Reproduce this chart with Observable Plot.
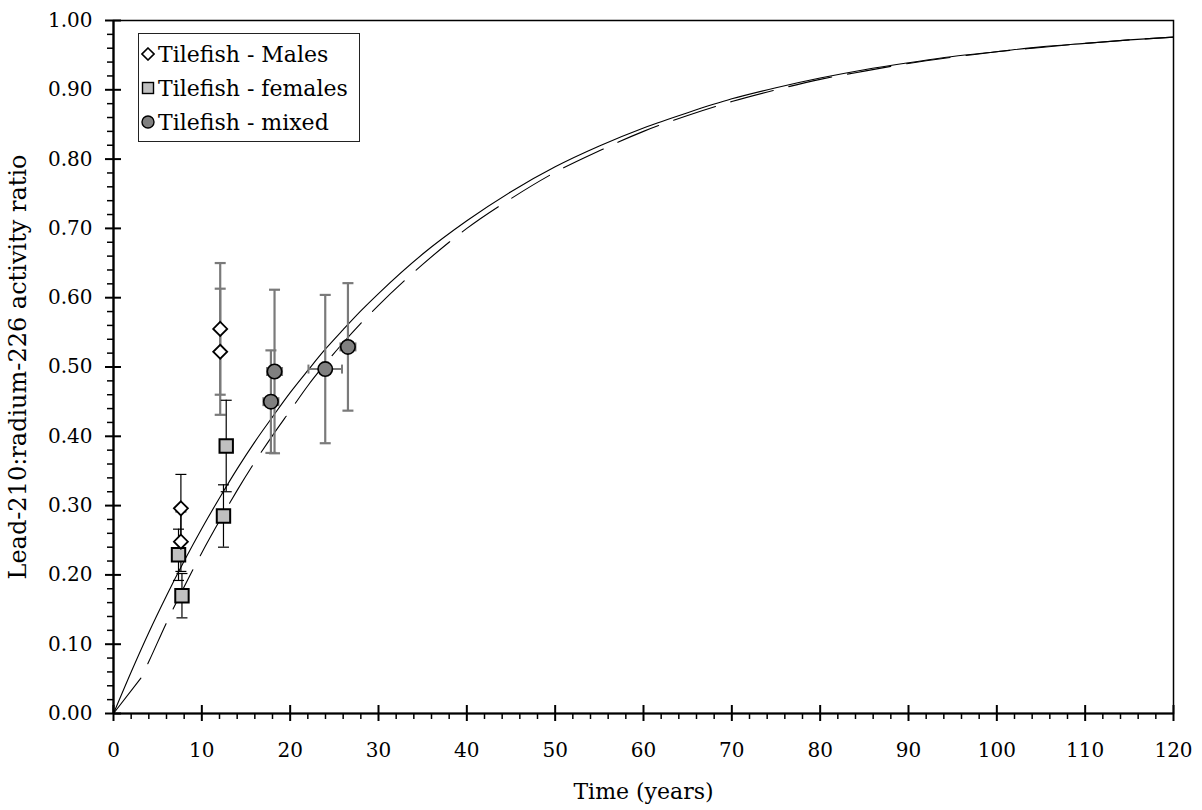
<!DOCTYPE html>
<html><head><meta charset="utf-8">
<script src="https://cdn.jsdelivr.net/npm/d3@7"></script>
<script src="https://cdn.jsdelivr.net/npm/@observablehq/plot@0.6"></script>
<style>
body{margin:0;background:#fff;}
#wrap{position:relative;width:1202px;height:810px;font-family:"DejaVu Serif",serif;}
#legend{position:absolute;left:138px;top:33px;width:222px;height:109px;border:1px solid #222;background:#fff;box-sizing:border-box;padding-top:3px;font-size:22px;color:#000;}
#legend .row{display:flex;align-items:center;height:34px;padding-left:2px;}
#legend svg{margin-right:3px;}
</style></head>
<body><div id="wrap"></div>
<script>
// Theoretical ingrowth curves
const curveTime   = [0,2,4,6,8,10,12,14,16,18,20,22,24,26,28,30,35,40,45,50,55,60,65,70,75,80,85,90,95,100,105,110,115,120];
const solidRatio  = [0,0.060,0.117,0.170,0.220,0.267,0.311,0.353,0.392,0.428,0.463,0.495,0.526,0.554,0.581,0.606,0.663,0.711,0.753,0.789,0.819,0.845,0.867,0.887,0.903,0.917,0.929,0.939,0.948,0.955,0.962,0.967,0.972,0.976];
// dashed curve: a straight first piece, then the curve
const dashedStartTime  = [0,3.1];
const dashedStartRatio = [0,0.051];
const dashedTime  = [3.1,4,6,8,10,12,14,16,18,20,22,24,26,28,30,35,40,45,50,55,60,65,70,75,80,85,90,95,100,105,110,115,120];
const dashedRatio = [0.051,0.075,0.131,0.183,0.232,0.278,0.322,0.363,0.401,0.437,0.473,0.505,0.535,0.563,0.589,0.648,0.700,0.743,0.781,0.812,0.840,0.863,0.883,0.900,0.915,0.927,0.938,0.947,0.955,0.961,0.967,0.972,0.976];

// Tilefish samples
const maleTime   = [7.63,7.63,12.08,12.08];
const maleRatio  = [0.296,0.248,0.555,0.522];
const maleErr    = [0.049,0.043,0.095,0.091];
const femaleTime = [7.36,7.75,12.45,12.76];
const femaleRatio= [0.229,0.170,0.285,0.386];
const femaleErr  = [0.037,0.032,0.045,0.066];
const mixedTime  = [17.82,18.23,23.97,26.54];
const mixedRatio = [0.450,0.4935,0.497,0.529];
const mixedErr   = [0.074,0.118,0.107,0.092];
const mixedTimeErr = [0.85,0.85,1.9,0.85];

// Axes
const xMajor = [0,10,20,30,40,50,60,70,80,90,100,110,120];
const xLabels = ["0","10","20","30","40","50","60","70","80","90","100","110","120"];
const xMinor = d3.range(0,121,2).filter(v => v % 10 !== 0);
const yMajor = [0,0.1,0.2,0.3,0.4,0.5,0.6,0.7,0.8,0.9,1.0];
const yLabels = ["0.00","0.10","0.20","0.30","0.40","0.50","0.60","0.70","0.80","0.90","1.00"];
const yMinor = d3.range(0,51).map(i => i/50).filter((v,i) => i % 5 !== 0);
const xTitle = "Time (years)";
const yTitle = "Lead-210:radium-226 activity ratio";
const seriesNames = ["Tilefish - Males","Tilefish - females","Tilefish - mixed"];

const idx = a => a.map((_, i) => i);
const hCap = {draw(ctx, size){const r = Math.sqrt(size/Math.PI); ctx.moveTo(-r,0); ctx.lineTo(r,0);}};
const vCap = {draw(ctx, size){const r = Math.sqrt(size/Math.PI); ctx.moveTo(0,-r); ctx.lineTo(0,r);}};
const diamond = {draw(ctx, size){const r = Math.sqrt(size/Math.PI); ctx.moveTo(0,-r); ctx.lineTo(r,0); ctx.lineTo(0,r); ctx.lineTo(-r,0); ctx.closePath();}};
const square = {draw(ctx, size){const r = Math.sqrt(size/Math.PI); ctx.rect(-r,-r,2*r,2*r);}};

function errMarks(T, V, E, stroke, sw, sel) {
  const I = idx(T).filter(sel);
  return [
    Plot.ruleX(I, {x: i => T[i], y1: i => V[i]-E[i], y2: i => V[i]+E[i], stroke, strokeWidth: sw}),
    Plot.dot(I, {x: i => T[i], y: i => V[i]-E[i], symbol: hCap, r: 5.5, stroke, strokeWidth: sw, fill: "none"}),
    Plot.dot(I, {x: i => T[i], y: i => V[i]+E[i], symbol: hCap, r: 5.5, stroke, strokeWidth: sw, fill: "none"})
  ];
}

const grey = "#7a7a7a";
const chart = Plot.plot({
  width: 1202, height: 810,
  marginLeft: 113, marginRight: 29, marginTop: 20, marginBottom: 97,
  style: {fontFamily: "DejaVu Serif", fontSize: "20px", color: "#000", background: "#fff"},
  x: {domain: [0,120], label: null},
  y: {domain: [0,1], label: null},
  marks: [
    Plot.frame({stroke: "#000", strokeWidth: 1.5}),
    Plot.line(idx(curveTime), {x: i => curveTime[i], y: i => solidRatio[i], curve: "monotone-x", stroke: "#000", strokeWidth: 1.1}),
    Plot.line(idx(dashedStartTime), {x: i => dashedStartTime[i], y: i => dashedStartRatio[i], stroke: "#000", strokeWidth: 1.1}),
    Plot.line(idx(dashedTime), {x: i => dashedTime[i], y: i => dashedRatio[i], curve: "monotone-x", stroke: "#000", strokeWidth: 1.1, strokeDasharray: "44,16", strokeDashoffset: 44}),
    // error bars
    ...errMarks(maleTime, maleRatio, maleErr, "#000", 1.2, i => maleTime[i] < 10),
    ...errMarks(maleTime, maleRatio, maleErr, grey, 2.2, i => maleTime[i] >= 10),
    ...errMarks(femaleTime, femaleRatio, femaleErr, "#000", 1.2, () => true),
    ...errMarks(mixedTime, mixedRatio, mixedErr, grey, 2.2, () => true),
    Plot.ruleY(idx(mixedTime), {y: i => mixedRatio[i], x1: i => mixedTime[i]-mixedTimeErr[i], x2: i => mixedTime[i]+mixedTimeErr[i], stroke: grey, strokeWidth: 2}),
    Plot.dot(idx(mixedTime), {x: i => mixedTime[i]-mixedTimeErr[i], y: i => mixedRatio[i], symbol: vCap, r: 4.5, stroke: grey, strokeWidth: 2, fill: "none"}),
    Plot.dot(idx(mixedTime), {x: i => mixedTime[i]+mixedTimeErr[i], y: i => mixedRatio[i], symbol: vCap, r: 4.5, stroke: grey, strokeWidth: 2, fill: "none"}),
    // markers
    Plot.dot(idx(femaleTime), {x: i => femaleTime[i], y: i => femaleRatio[i], symbol: square, r: 6.7, fill: "#c0c0c0", stroke: "#000", strokeWidth: 2}),
    Plot.dot(idx(mixedTime), {x: i => mixedTime[i], y: i => mixedRatio[i], symbol: "circle", r: 7.2, fill: "#808080", stroke: "#000", strokeWidth: 1.6}),
    Plot.dot(idx(maleTime), {x: i => maleTime[i], y: i => maleRatio[i], symbol: diamond, r: 7, fill: "#fff", stroke: "#000", strokeWidth: 1.8}),
    // axis lines
    Plot.ruleX([0], {stroke: "#000", strokeWidth: 2.2}),
    Plot.ruleY([0], {stroke: "#000", strokeWidth: 2.2}),
    // ticks
    Plot.axisX(xMajor, {tickSize: 16, dy: -8, tickFormat: () => "", strokeWidth: 2}),
    Plot.axisX(xMinor, {tickSize: 6, tickFormat: () => "", strokeWidth: 1.5}),
    Plot.axisX(xMajor, {tickSize: 0, tickPadding: 29, tickFormat: (d, i) => xLabels[i]}),
    Plot.axisY(yMajor, {tickSize: 16, dx: 8, tickFormat: () => "", strokeWidth: 2}),
    Plot.axisY(yMinor, {tickSize: 6, tickFormat: () => "", strokeWidth: 1.5}),
    Plot.axisY(yMajor, {tickSize: 0, tickPadding: 21, tickFormat: (d, i) => yLabels[i]}),
    // titles
    Plot.text([xTitle], {frameAnchor: "bottom", dy: 85, fontSize: 22}),
    Plot.text([yTitle], {frameAnchor: "left", textAnchor: "middle", rotate: -90, dx: -95, fontSize: 24})
  ]
});
const wrap = document.getElementById("wrap");
wrap.appendChild(chart);

const legend = document.createElement("div");
legend.id = "legend";
const icons = [
  '<svg width="14" height="14"><polygon points="7,1 13,7 7,13 1,7" fill="#fff" stroke="#000" stroke-width="1.6"/></svg>',
  '<svg width="14" height="14"><rect x="1.5" y="1.5" width="11" height="11" fill="#c0c0c0" stroke="#000" stroke-width="1.4"/></svg>',
  '<svg width="14" height="14"><circle cx="7" cy="7" r="6" fill="#808080" stroke="#000" stroke-width="1.4"/></svg>'
];
seriesNames.forEach((name, i) => {
  const row = document.createElement("div");
  row.className = "row";
  row.innerHTML = icons[i] + '<span>' + name + '</span>';
  legend.appendChild(row);
});
wrap.appendChild(legend);
</script>
</body></html>
